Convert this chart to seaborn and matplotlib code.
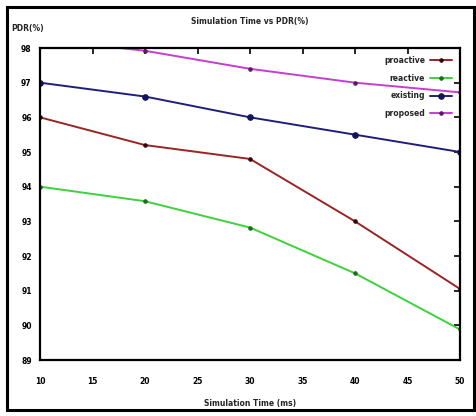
import matplotlib
matplotlib.use("Agg")
import matplotlib.pyplot as plt
import seaborn as sns
import pandas as pd
from matplotlib.patches import Rectangle

# values
sim_time = [10, 20, 30, 40, 50]
proactive = [96.0, 95.2, 94.8, 93.0, 91.05]
reactive = [94.0, 93.58, 92.82, 91.5, 89.88]
existing = [97.0, 96.6, 96.0, 95.5, 95.0]
proposed = [98.25, 97.92, 97.4, 97.0, 96.72]

x_ticks = [10, 15, 20, 25, 30, 35, 40, 45, 50]
y_ticks = [89, 90, 91, 92, 93, 94, 95, 96, 97, 98]

series = {
    "proactive": proactive,
    "reactive": reactive,
    "existing": existing,
    "proposed": proposed,
}
colors = {
    "proactive": "#9a2424",
    "reactive": "#3cd23c",
    "existing": "#1f1f7a",
    "proposed": "#c83cd0",
}
msizes = {"proactive": 2.5, "reactive": 2.5, "existing": 4, "proposed": 2.5}
mcolors = {
    "proactive": "#2a0a0a",
    "reactive": "#1d6a1d",
    "existing": "#14145a",
    "proposed": "#5a1a60",
}

df = pd.DataFrame({"time": sim_time, **series})

sns.set_style("white")
plt.rcParams["font.family"] = ["DejaVu Sans"]

fig = plt.figure(figsize=(4.77, 4.16), dpi=100)
ax = fig.add_axes([40 / 477, 1 - 360 / 416, 420 / 477, 312 / 416])

for name in series:
    sns.lineplot(data=df, x="time", y=name, ax=ax, label=name,
                 color=colors[name], lw=1.4, marker="o",
                 markersize=msizes[name], markerfacecolor=mcolors[name],
                 markeredgecolor=mcolors[name])

ax.set_xlim(10, 50)
ax.set_ylim(89, 98)
ax.set_xticks(x_ticks)
ax.set_yticks(y_ticks)
ax.tick_params(direction="in", length=4, width=1.2, top=True, right=True,
               labelsize=5.5, colors="black")
ax.tick_params(axis="x", pad=12)
ax.tick_params(axis="y", pad=6)
for lab in ax.get_xticklabels() + ax.get_yticklabels():
    lab.set_fontweight("bold")
for sp in ax.spines.values():
    sp.set_visible(True)
    sp.set_color("black")
    sp.set_linewidth(1.6)

ax.set_title("Simulation Time vs PDR(%)", fontsize=5.5, fontweight="bold", pad=17)
ax.set_xlabel("Simulation Time (ms)", fontsize=5.5, fontweight="bold")
ax.xaxis.set_label_coords(0.5, -0.138)
ax.xaxis.label.set_va("center")
ax.set_ylabel("PDR(%)", fontsize=5.5, fontweight="bold", rotation=0)
ax.yaxis.set_label_coords(-0.03, 1.061)
ax.yaxis.label.set_va("center")

leg = ax.legend(loc="upper right", bbox_to_anchor=(0.981, 0.975), frameon=False,
                markerfirst=False, fontsize=5.5, borderpad=0, borderaxespad=0,
                labelspacing=1.15, handlelength=2.9, handletextpad=0.65)
for t in leg.get_texts():
    t.set_fontweight("bold")

# outer picture frame
fig.patches.append(Rectangle((7 / 477, 6 / 416), 467 / 477, 403 / 416,
                             transform=fig.transFigure, fill=False,
                             edgecolor="black", linewidth=2.2))

fig.savefig("out.png", dpi=100)
